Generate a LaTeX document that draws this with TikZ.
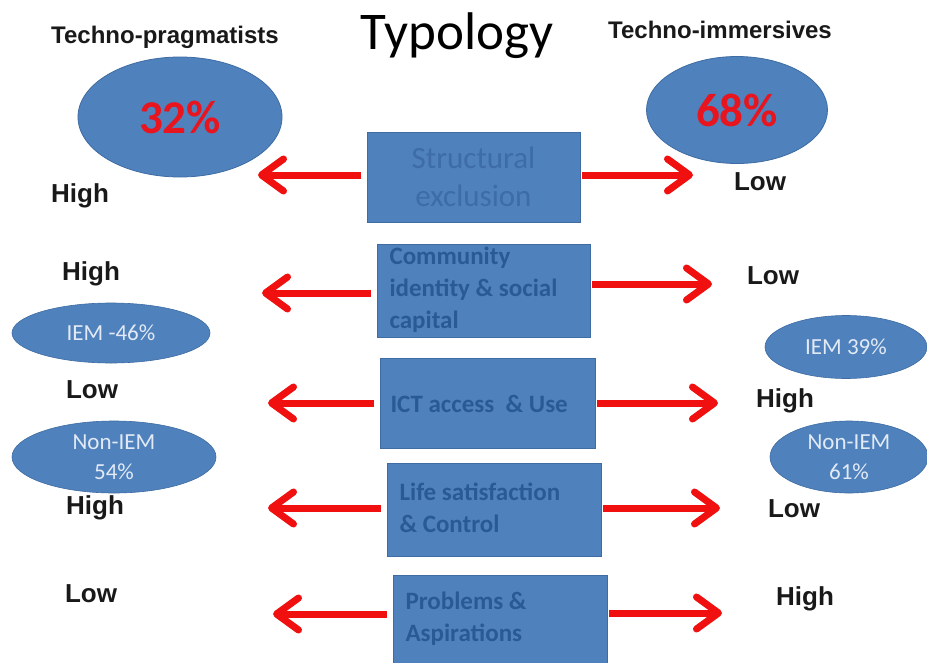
\documentclass[tikz,border=0pt]{standalone}
\usepackage{fontspec}
\setmainfont{Carlito}
\newfontfamily\arialf{Liberation Sans}
\usetikzlibrary{arrows.meta,shapes.geometric}
\definecolor{boxblue}{HTML}{4F81BD}
\definecolor{boxedge}{HTML}{3E6CA3}
\definecolor{boxtext}{HTML}{2A5A96}
\definecolor{boxtextlight}{HTML}{3D6CA8}
\definecolor{arrred}{HTML}{F01010}
\definecolor{pctred}{HTML}{E8141E}
\definecolor{elltext}{HTML}{E2EAF5}
\tikzset{
  factorbox/.style={draw=boxedge, line width=0.8pt, fill=boxblue, rectangle, inner sep=0pt},
  bigell/.style={ellipse, draw=boxedge, line width=0.8pt, fill=boxblue, inner sep=0pt},
  smallell/.style={ellipse, draw=boxedge, line width=0.6pt, fill=boxblue, inner sep=0pt, text=elltext, font=\fontsize{23}{30}\selectfont, align=center},
  lbl/.style={font=\arialf\bfseries\fontsize{26}{30}\selectfont, text=black!90},
  grp/.style={font=\arialf\bfseries\fontsize{24}{28}\selectfont, text=black!90},
  pct/.style={font=\bfseries\fontsize{47}{52}\selectfont, text=pctred},
  redarrow/.style={draw=arrred, line width=7pt, -{Straight Barb[length=22pt,width=32pt,round]}},
  boxlbl/.style={font=\bfseries\fontsize{25}{32}\selectfont, text=boxtext, align=left, anchor=west}
}
\begin{document}
\begin{tikzpicture}[x=1pt,y=-1pt]
\useasboundingbox (0,0) rectangle (927,662);
\fill[white] (0,0) rectangle (927,662);

% title and group names
\node (title) at (457,36) {\fontsize{53}{58}\selectfont Typology};
\node[grp] (tp) at (165,37) {Techno-pragmatists};
\node[grp] (ti) at (720,30) {Techno-immersives};

% big ellipses
\node[bigell, minimum width=204pt, minimum height=120pt] (e32) at (180,117) {};
\node[pct] at (e32.center) {32\%};
\node[bigell, minimum width=181pt, minimum height=107pt] (e68) at (737,110) {};
\node[pct] at (e68.center) {68\%};

% boxes
\node[factorbox, minimum width=213pt, minimum height=90pt] (b1) at (473.5,177) {};
\node[font=\fontsize{31}{38}\selectfont, text=boxtextlight, align=center] at (b1.center) {Structural\\exclusion};

\node[factorbox, minimum width=213pt, minimum height=93pt] (b2) at (483.5,290.5) {};
\node[boxlbl] at (386,290) {Community\\identity \& social\\capital};

\node[factorbox, minimum width=215pt, minimum height=90pt] (b3) at (487.5,403) {};
\node[boxlbl] at (387,404) {ICT access \ \& Use};

\node[factorbox, minimum width=214pt, minimum height=93pt] (b4) at (494,509.5) {};
\node[boxlbl] at (396,508) {Life satisfaction\\\& Control};

\node[factorbox, minimum width=214pt, minimum height=93pt] (b5) at (500,621.5) {};
\node[boxlbl] at (402,619) {Problems \&\\Aspirations};

% small ellipses
\node[smallell, minimum width=198pt, minimum height=60pt] (iem46) at (111,333) {IEM -46\%};
\node[smallell, minimum width=204pt, minimum height=72pt] (non54) at (114,457) {Non-IEM\\54\%};
\node[smallell, minimum width=162pt, minimum height=63pt] (iem39) at (846,347) {IEM 39\%};
\node[smallell, minimum width=158pt, minimum height=72pt] (non61) at (849,457) {Non-IEM\\61\%};

% level labels
\node[lbl] (l1) at (80,196) {High};
\node[lbl] (l2) at (91,274) {High};
\node[lbl] (l3) at (92,390) {Low};
\node[lbl] (l4) at (95,508) {High};
\node[lbl] (l5) at (91,594) {Low};
\node[lbl] (r1) at (760,182) {Low};
\node[lbl] (r2) at (773,276) {Low};
\node[lbl] (r3) at (785,401) {High};
\node[lbl] (r4) at (794,509) {Low};
\node[lbl] (r5) at (805,599) {High};

% arrow end points
\coordinate (a1l) at (258,175);
\coordinate (a2l) at (262,293);
\coordinate (a3l) at (268,403);
\coordinate (a4l) at (268,508);
\coordinate (a5l) at (273,614);
\coordinate (a1r) at (693,175);
\coordinate (a2r) at (712,284);
\coordinate (a3r) at (718,403);
\coordinate (a4r) at (720,508);
\coordinate (a5r) at (722,613);

\draw[redarrow] ([xshift=-6pt]b1.west |- a1l) -- (a1l);
\draw[redarrow] ([xshift=-6pt]b2.west |- a2l) -- (a2l);
\draw[redarrow] ([xshift=-6pt]b3.west |- a3l) -- (a3l);
\draw[redarrow] ([xshift=-6pt]b4.west |- a4l) -- (a4l);
\draw[redarrow] ([xshift=-6pt]b5.west |- a5l) -- (a5l);
\draw[redarrow] ([xshift=2pt]b1.east |- a1r) -- (a1r);
\draw[redarrow] ([xshift=2pt]b2.east |- a2r) -- (a2r);
\draw[redarrow] ([xshift=2pt]b3.east |- a3r) -- (a3r);
\draw[redarrow] ([xshift=2pt]b4.east |- a4r) -- (a4r);
\draw[redarrow] ([xshift=2pt]b5.east |- a5r) -- (a5r);
\end{tikzpicture}
\end{document}
